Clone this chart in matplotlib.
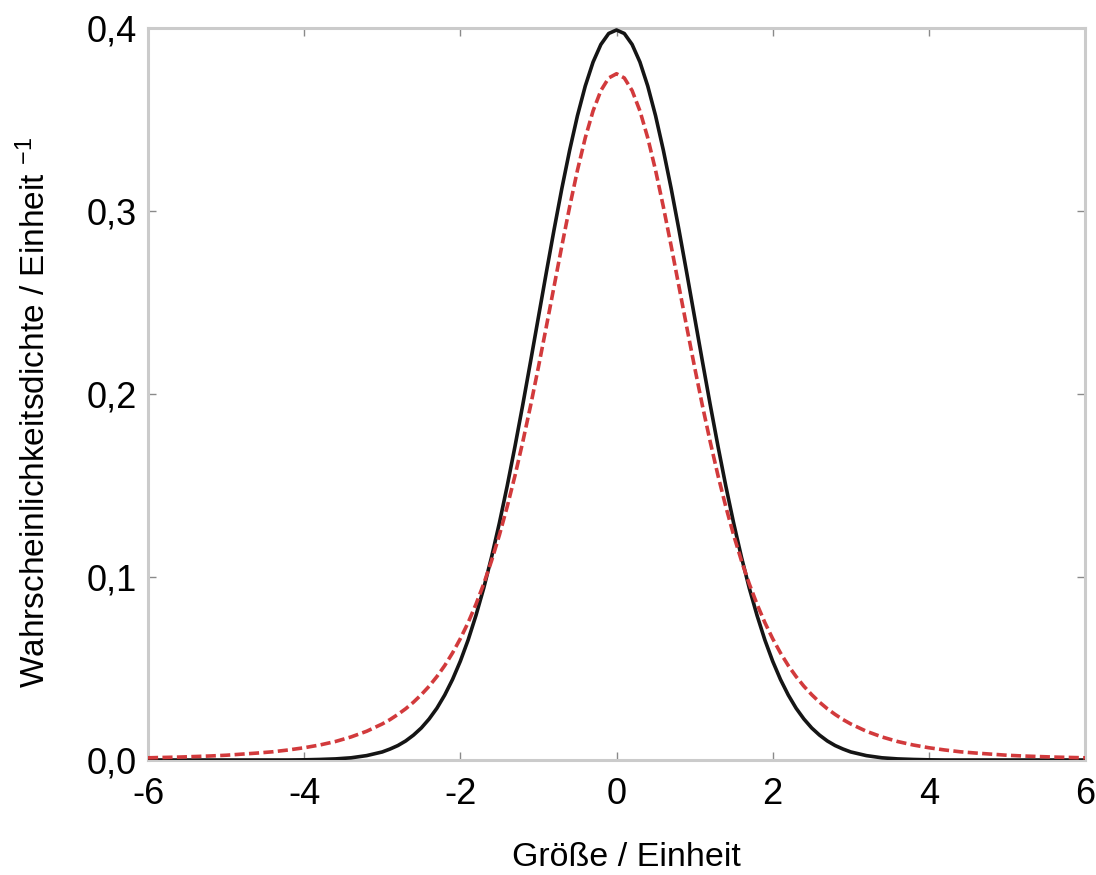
import matplotlib
matplotlib.use("Agg")
import matplotlib.pyplot as plt

plt.rcParams["font.family"] = ["Liberation Sans", "DejaVu Sans"]
plt.rcParams["mathtext.default"] = "regular"

# values, right half (curves are symmetric about 0)
x_half = [0.0, 0.1, 0.2, 0.3, 0.4, 0.5, 0.6, 0.7, 0.8, 0.9, 1.0,
          1.1, 1.2, 1.3, 1.4, 1.5, 1.6, 1.7, 1.8, 1.9, 2.0,
          2.1, 2.2, 2.3, 2.4, 2.5, 2.6, 2.7, 2.8, 2.9, 3.0,
          3.2, 3.4, 3.6, 3.8, 4.0, 4.2, 4.4, 4.6, 4.8, 5.0,
          5.2, 5.4, 5.6, 5.8, 6.0]
# black solid curve
normal_half = [0.3989, 0.3970, 0.3910, 0.3814, 0.3683, 0.3521, 0.3332,
               0.3123, 0.2897, 0.2661, 0.2420, 0.2179, 0.1942, 0.1714,
               0.1497, 0.1295, 0.1109, 0.0940, 0.0790, 0.0656, 0.0540,
               0.0440, 0.0355, 0.0283, 0.0224, 0.0175, 0.0136, 0.0104,
               0.0079, 0.0060, 0.0044,
               0.0024, 0.0012, 0.0006, 0.0003, 0.0001, 0.0, 0.0, 0.0,
               0.0, 0.0, 0.0, 0.0, 0.0, 0.0, 0.0]
# red dashed curve
heavy_half = [0.3750, 0.3727, 0.3658, 0.3547, 0.3400, 0.3223, 0.3023,
              0.2809, 0.2587, 0.2365, 0.2147, 0.1937, 0.1739, 0.1554,
              0.1384, 0.1229, 0.1089, 0.0963, 0.0851, 0.0751, 0.0663,
              0.0585, 0.0516, 0.0456, 0.0403, 0.0357, 0.0316, 0.0280,
              0.0249, 0.0221, 0.0197,
              0.0157, 0.0126, 0.0101, 0.0082, 0.0067, 0.0055, 0.0045,
              0.0038, 0.0032, 0.0026, 0.0022, 0.0019, 0.0016, 0.0014,
              0.0012]

x_vals = [-v for v in x_half[:0:-1]] + x_half
normal_vals = normal_half[:0:-1] + normal_half
heavy_vals = heavy_half[:0:-1] + heavy_half

x_ticks = [-6, -4, -2, 0, 2, 4, 6]
x_tick_labels = ["-6", "-4", "-2", "0", "2", "4", "6"]
y_ticks = [0.0, 0.1, 0.2, 0.3, 0.4]
y_tick_labels = ["0,0", "0,1", "0,2", "0,3", "0,4"]

fig = plt.figure(figsize=(10.96, 8.75), dpi=100)
ax = fig.add_axes([148 / 1096, 1 - 760 / 875, (1085 - 148) / 1096, (760 - 28) / 875])

ax.plot(x_vals, normal_vals, color="#151515", linewidth=2.6, zorder=3)
ax.plot(x_vals, heavy_vals, color="#d23a3c", linewidth=2.6,
        linestyle=(0, (2.8, 1.2)), zorder=4)

ax.set_xlim(-6, 6)
ax.set_ylim(0, 0.4)
ax.set_xticks(x_ticks)
ax.set_xticklabels(x_tick_labels)
ax.set_yticks(y_ticks)
ax.set_yticklabels(y_tick_labels)

for spine in ax.spines.values():
    spine.set_color("#cbcbcb")
    spine.set_linewidth(2.2)

ax.tick_params(axis="both", direction="in", length=6, width=1.0,
               color="#8a8a8a", labelsize=26, top=True, right=True)
ax.tick_params(axis="x", pad=12)
ax.tick_params(axis="y", pad=8)

ax.set_xlabel("Größe / Einheit", fontsize=24.5, labelpad=22, x=0.511)
ax.set_ylabel("Wahrscheinlichkeitsdichte / Einheit $^{-1}$", fontsize=24,
              labelpad=25, y=0.475)

fig.savefig("out.png", dpi=100)
